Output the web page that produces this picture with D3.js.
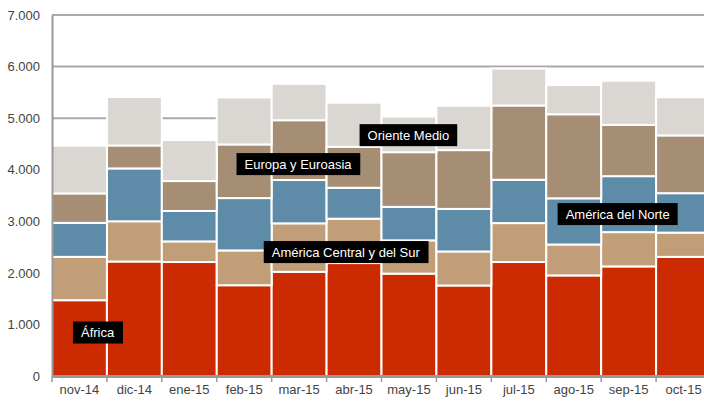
<!DOCTYPE html>
<html>
<head>
<meta charset="utf-8">
<title>stacked bars</title>
<style>
  body { margin: 0; background: #fff; }
  svg text { font-family: "Liberation Sans", Arial, sans-serif; }
  .axis text { fill: #444; font-size: 13px; }
  .grid line { stroke: #aaa; stroke-width: 2; }
  .lbl text { fill: #fff; font-size: 13px; }
</style>
</head>
<body>
<svg width="704" height="403"></svg>
<script src="https://cdn.jsdelivr.net/npm/d3@7"></script>
<script>
var months = ['nov-14','dic-14','ene-15','feb-15','mar-15','abr-15','may-15','jun-15','jul-15','ago-15','sep-15','oct-15'];
var seriesNames = ['África','América Central y del Sur','América del Norte','Europa y Euroasia','Oriente Medio'];
var africa   = [1470, 2220, 2210, 1760, 2020, 2190, 1985, 1755, 2210, 1950, 2125, 2310];
var centroSur = [840, 780, 400, 675, 940, 860, 645, 660, 755, 600, 665, 470];
var norte    = [660, 1025, 590, 1015, 840, 600, 650, 825, 840, 895, 1085, 765];
var europa   = [570, 445, 580, 1040, 1160, 795, 1060, 1140, 1440, 1630, 995, 1120];
var oriente  = [925, 940, 795, 910, 705, 855, 690, 860, 715, 565, 855, 740];
var yTicks = [0, 1000, 2000, 3000, 4000, 5000, 6000, 7000];
// label anchor: position in month units, value on the y scale
var labelSeries = ['África','América Central y del Sur','Europa y Euroasia','Oriente Medio','América del Norte'];
var labelPos    = [0.83, 5.35, 4.48, 6.49, 10.3];
var labelVal    = [843, 2403, 4109, 4670, 3140];

var colors = ['#cc2a00', '#c19e78', '#5e8ca8', '#a68e74', '#dad7d3'];

(function() {
var svg = d3.select('svg');
var mLeft = 52, mRight = 711, mTop = 15, mBottom = 376;

var x = d3.scaleBand().domain(months).range([mLeft, mRight]).padding(0);
var y = d3.scaleLinear().domain([0, 7000]).range([mBottom, mTop]);
var xu = d3.scaleLinear().domain([0, months.length]).range([mLeft, mRight]);
var fmt = d3.formatLocale({decimal: ',', thousands: '.', grouping: [3], currency: ['', '€']}).format(',d');

var rows = months.map(function(m, i) {
    return {month: m, 'África': africa[i], 'América Central y del Sur': centroSur[i],
        'América del Norte': norte[i], 'Europa y Euroasia': europa[i], 'Oriente Medio': oriente[i]};
});
var stack = d3.stack().keys(seriesNames)(rows);

// grid
svg.append('g').attr('class', 'grid')
    .selectAll('line').data(yTicks.slice(1)).enter().append('line')
    .attr('x1', mLeft).attr('x2', 704)
    .attr('y1', function(d) { return y(d); }).attr('y2', function(d) { return y(d); });

// bars
svg.append('g').selectAll('g').data(stack).enter().append('g')
    .attr('fill', function(d, i) { return colors[i]; })
    .selectAll('rect').data(function(d) { return d; }).enter().append('rect')
    .attr('x', function(d) { return x(d.data.month); })
    .attr('width', x.bandwidth())
    .attr('y', function(d) { return y(d[1]); })
    .attr('height', function(d) { return y(d[0]) - y(d[1]); })
    .attr('stroke', '#fff').attr('stroke-width', 2);

// y axis
var ya = svg.append('g').attr('class', 'axis').attr('transform', 'translate(' + mLeft + ',0)')
    .call(d3.axisLeft(y).tickValues(yTicks).tickSize(0).tickPadding(12).tickFormat(fmt));
ya.select('.domain').attr('stroke', '#999').attr('stroke-width', 2);

// x axis
var xa = svg.append('g').attr('class', 'axis').attr('transform', 'translate(0,' + mBottom + ')')
    .call(d3.axisBottom(x).tickSize(0).tickPadding(9));
xa.select('.domain').attr('stroke', '#999').attr('stroke-width', 3);
xa.selectAll('.edge').data(d3.range(months.length + 1)).enter().append('line')
    .attr('class', 'edge')
    .attr('x1', function(d) { return xu(d); }).attr('x2', function(d) { return xu(d); })
    .attr('y1', 0).attr('y2', 6).attr('stroke', '#999').attr('stroke-width', 1.5);

// labels
var lbl = svg.append('g').attr('class', 'lbl').selectAll('g').data(labelSeries).enter().append('g')
    .attr('transform', function(d, i) { return 'translate(' + xu(labelPos[i]) + ',' + y(labelVal[i]) + ')'; });
lbl.append('text').attr('text-anchor', 'middle').attr('dy', '0.35em').text(function(d) { return d; });
lbl.each(function() {
    var g = d3.select(this), b = g.select('text').node().getBBox();
    g.insert('rect', 'text').attr('x', b.x - 8).attr('y', -11)
        .attr('width', b.width + 16).attr('height', 22).attr('fill', '#000');
});
})();
</script>
</body>
</html>
